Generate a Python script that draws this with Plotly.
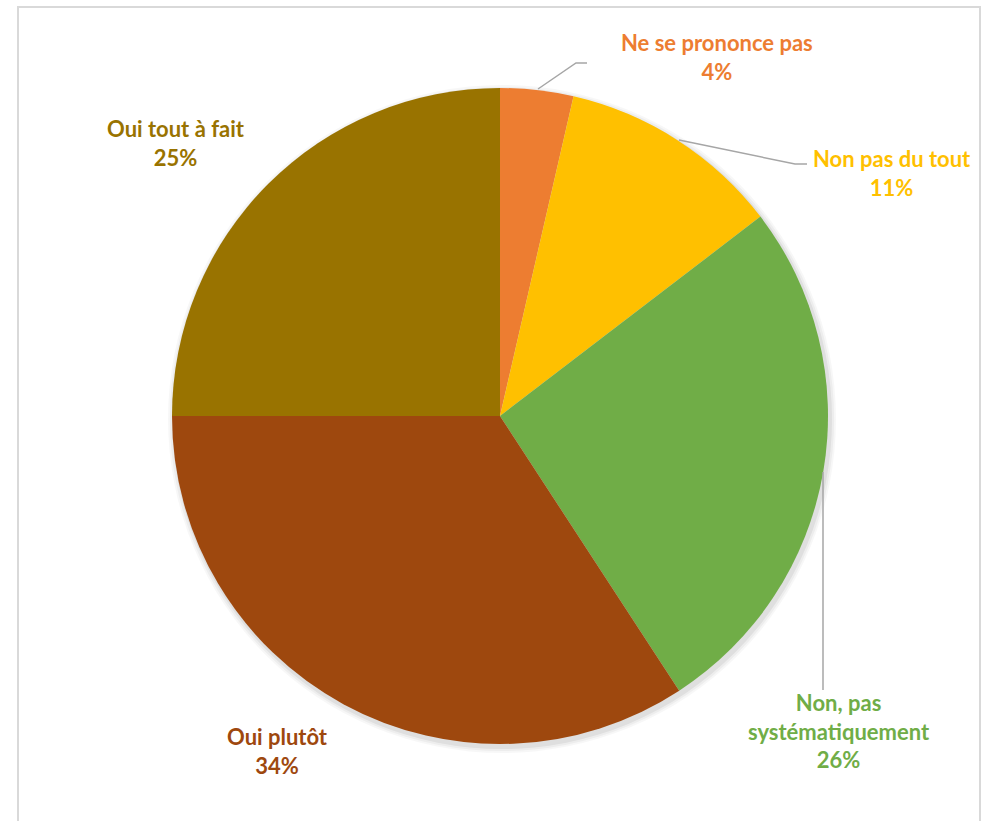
import plotly.graph_objects as go

# ---- data ----
categories = ["Ne se prononce pas", "Non pas du tout", "Non, pas<br>systématiquement",
              "Oui plutôt", "Oui tout à fait"]
values = [3.6, 11.0, 26.2, 34.2, 25.0]
pct_labels = ["4%", "11%", "26%", "34%", "25%"]
colors = ["#ED7D31", "#FFC000", "#70AD47", "#9E480E", "#997300"]

W, H = 989, 821

def px(x):
    return x / W

def py(y):
    return 1 - y / H

# pie geometry in pixels
cx, cy, r = 500, 416, 328

fig = go.Figure()

# soft shadow layers
for dr, a in [(6, 0.03), (4, 0.04), (2, 0.06)]:
    fig.add_trace(go.Pie(
        values=[1], labels=["shadow"], sort=False,
        marker=dict(colors=[f"rgba(0,0,0,{a})"], line=dict(width=0)),
        textinfo="none", hoverinfo="skip", showlegend=False,
        domain=dict(x=[px(cx - r - dr + 2), px(cx + r + dr + 2)],
                    y=[py(cy + r + dr + 3), py(cy - r - dr + 3)]),
    ))

fig.add_trace(go.Pie(
    labels=categories, values=values, sort=False, direction="clockwise", rotation=0,
    marker=dict(colors=colors, line=dict(width=0)),
    textinfo="none", showlegend=False,
    domain=dict(x=[px(cx - r), px(cx + r)], y=[py(cy + r), py(cy - r)]),
))

# label annotations (pixel centers)
label_pos = [(717, 57), (892, 173), (839, 731), (277, 751), (176, 143)]
for cat, pl, col, (lx, ly) in zip(categories, pct_labels, colors, label_pos):
    fig.add_annotation(
        x=px(lx), y=py(ly), xref="paper", yref="paper",
        text=f"<b>{cat}<br>{pl}</b>", showarrow=False,
        font=dict(family="Lato", size=22, color=col),
        xanchor="center", yanchor="middle", align="center",
    )

# leader lines
leaders = [
    [(538, 89), (576, 63), (587, 63)],
    [(679, 140), (795, 164), (807, 164)],
    [(823, 472), (823, 690)],
]
for pts in leaders:
    path = "M " + " L ".join(f"{px(x)},{py(y)}" for x, y in pts)
    fig.add_shape(type="path", path=path, xref="paper", yref="paper",
                  line=dict(color="#A6A6A6", width=1.5))

# outer frame
fig.add_shape(type="rect", xref="paper", yref="paper",
              x0=px(18), x1=px(980), y0=py(830), y1=py(7),
              line=dict(color="#D9D9D9", width=2), fillcolor="rgba(0,0,0,0)")

fig.update_layout(
    width=W, height=H,
    margin=dict(l=0, r=0, t=0, b=0),
    paper_bgcolor="white", plot_bgcolor="white",
    showlegend=False,
)

fig.write_html("out.html", config={"displayModeBar": False},
               post_script="document.body.style.margin='0';document.body.style.overflow='hidden';")
